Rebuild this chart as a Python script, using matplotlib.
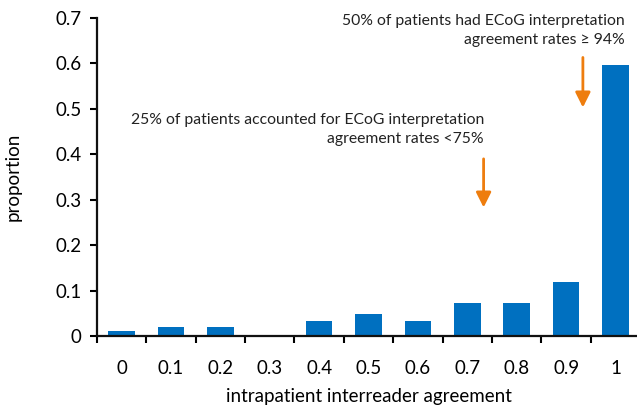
import numpy as np
import matplotlib
matplotlib.use("Agg")
import matplotlib.pyplot as plt
from matplotlib.ticker import FixedLocator

# datos
categorias = ["0", "0.1", "0.2", "0.3", "0.4", "0.5", "0.6", "0.7", "0.8", "0.9", "1"]
proporciones = [0.011, 0.02, 0.02, 0.0, 0.034, 0.049, 0.034, 0.073, 0.073, 0.12, 0.596]
texto_alto = "50% of patients had ECoG interpretation\nagreement rates \u2265 94%"
texto_bajo = "25% of patients accounted for ECoG interpretation\nagreement rates <75%"

plt.rcParams['font.family'] = ['Lato', 'DejaVu Sans']

azul = '#0070C0'
naranja = '#EE7D0E'

fig = plt.figure(figsize=(6.37, 4.07), dpi=100)
ax = fig.add_axes([0.152, 0.174, 0.853, 0.782])

x = np.arange(len(categorias))
ax.bar(x, proporciones, width=0.54, color=azul, zorder=2)

ax.set_xlim(-0.5, len(categorias) - 0.5)
ax.set_ylim(0, 0.7)
ax.set_yticks(np.arange(0, 0.71, 0.1))
ax.set_yticklabels(["0"] + [f"{v:.1f}" for v in np.arange(0.1, 0.71, 0.1)])
ax.set_xticks(x)
ax.set_xticklabels(categorias)
ax.xaxis.set_minor_locator(FixedLocator(np.arange(-0.5, len(categorias), 1.0)))

ax.tick_params(axis='x', which='major', length=0, pad=17, labelsize=13.5)
ax.tick_params(axis='x', which='minor', length=5, width=1.5, direction='out')
ax.tick_params(axis='y', length=5, width=1.5, direction='out', labelsize=13.5, pad=6)

for lado in ['top', 'right']:
    ax.spines[lado].set_visible(False)
for lado in ['left', 'bottom']:
    ax.spines[lado].set_linewidth(1.6)
    ax.spines[lado].set_color('#111111')

ax.set_ylabel("proportion", fontsize=13.5, labelpad=24)
ax.set_xlabel("intrapatient interreader agreement", fontsize=13.5, labelpad=8)

# anotaciones con flechas
flecha = dict(arrowstyle='-|>,head_length=0.9,head_width=0.45', color=naranja, lw=2,
              shrinkA=0, shrinkB=0)
ax.annotate("", xy=(9.34, 0.503), xytext=(9.34, 0.613), arrowprops=flecha)
ax.annotate("", xy=(7.33, 0.283), xytext=(7.33, 0.39), arrowprops=flecha)

ax.text(10.18, 0.708, texto_alto, ha='right', va='top', fontsize=11.3,
        linespacing=1.4, color='#222222')
ax.text(7.34, 0.49, texto_bajo, ha='right', va='top', fontsize=11.3,
        linespacing=1.4, color='#222222')

fig.savefig("out.png", dpi=100)
